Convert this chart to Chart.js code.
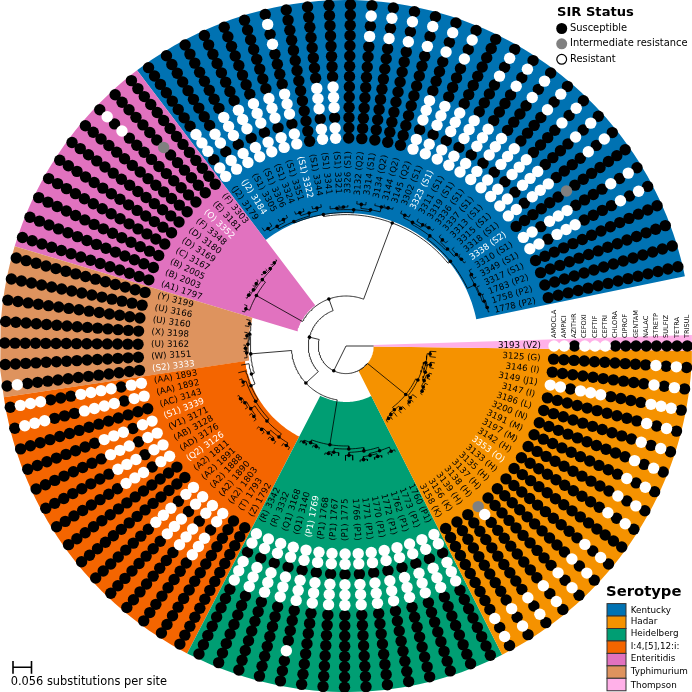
<!DOCTYPE html>
<html>
<head>
<meta charset="utf-8">
<title>SIR status by serotype</title>
<script src="https://cdn.jsdelivr.net/npm/chart.js@4/dist/chart.umd.min.js"></script>
<style>
  html, body { margin: 0; padding: 0; background: #fff; }
  canvas { display: block; }
</style>
</head>
<body>
<canvas id="tree" width="692" height="692"></canvas>
<script>
// antibiotic columns, inner ring to outer ring
const drugs = ['AMOCLA', 'AMPICI', 'AZITHR', 'CEFOXI', 'CEFTIF', 'CEFTRI', 'CHLORA', 'CIPROF', 'GENTAM', 'NALAC', 'STRETP', 'SULFIZ', 'TETRA', 'TRISUL'];

// isolates clockwise from the Thompson row: [id, subgroup]
const thompsonIsolates = [['3193', 'V2']];
const hadarIsolates = [['3125', 'G'], ['3146', 'I'], ['3149', 'J1'], ['3147', 'I'], ['3186', 'L'], ['3200', 'N'], ['3191', 'M'], ['3197', 'M'], ['3142', 'H'], ['3353', 'O'], ['3133', 'H'], ['3135', 'H'], ['3137', 'H'], ['3138', 'H'], ['3139', 'H'], ['3156', 'K'], ['3158', 'K']];
const heidelbergIsolates = [['1760', 'P1'], ['1773', 'P1'], ['1762', 'P1'], ['1772', 'P1'], ['1770', 'P1'], ['1771', 'P1'], ['1766', 'P1'], ['1775', 'P1'], ['1767', 'P1'], ['1768', 'P1'], ['1769', 'P1'], ['3140', 'Q1'], ['3168', 'Q1'], ['3332', 'R'], ['3342', 'R']];
const monophasicIsolates = [['1792', 'Z'], ['1793', 'T'], ['1803', 'A2'], ['1890', 'A2'], ['1888', 'A2'], ['1891', 'A2'], ['1811', 'A2'], ['3126', 'Q2'], ['3176', 'AD'], ['3128', 'AB'], ['3171', 'V1'], ['3339', 'S1'], ['3143', 'AC'], ['1892', 'AA'], ['1893', 'AA']];
const typhimuriumIsolates = [['3333', 'S2'], ['3151', 'W'], ['3162', 'U'], ['3198', 'X'], ['3160', 'U'], ['3166', 'U'], ['3199', 'Y']];
const enteritidisIsolates = [['1797', 'A1'], ['2003', 'B'], ['2005', 'B'], ['3167', 'C'], ['3169', 'D'], ['3180', 'D'], ['3348', 'F'], ['3352', 'O'], ['3181', 'E'], ['3303', 'F']];
const kentuckyIsolates = [['3179', 'J2'], ['3184', 'J2'], ['3305', 'S1'], ['3306', 'S1'], ['3324', 'S1'], ['3351', 'S1'], ['3322', 'S1'], ['3344', 'S1'], ['3341', 'S1'], ['3321', 'S1'], ['3326', 'S1'], ['3132', 'Q2'], ['3314', 'S1'], ['3134', 'Q2'], ['3144', 'Q2'], ['3145', 'Q2'], ['3302', 'S1'], ['3323', 'S1'], ['3311', 'S1'], ['3319', 'S1'], ['3336', 'S1'], ['3337', 'S1'], ['3313', 'S1'], ['3315', 'S1'], ['3318', 'S1'], ['3338', 'S2'], ['3310', 'S1'], ['3349', 'S1'], ['3317', 'S1'], ['1783', 'P2'], ['1758', 'P2'], ['1778', 'P2']];

// isolates whose label is printed in white
const whiteLabels = ['3184', '3322', '3323', '3338', '3339', '3333', '3352', '3353', '3126', '1769'];

// SIR calls per isolate, one letter per drug
const thompsonSir = ['RRSRRRSSSSSSSS'];
const hadarSir = [
  'SSSSSSSSSSRSRS', 'SSSSSSSSSSRSRS', 'RRSRRRSSSSRRRS', 'SSSSSSSSSSRSRS', 'SSSSSSSSSSRSRS', 'SSSSSSSSSSRSRS',
  'SSSSSSSSSSRSRS', 'SSSSSSSSSSRSRS', 'SSSSSSSSSSRSRS', 'SSSSSSSSSSSSSS', 'SSSSSSSSSSRSRS', 'SSSSSSSSSSRSRS',
  'SSSSSSSSSSRSRS', 'IRSSSSSSSSRSRS', 'SSSSSSSSSSRSRS', 'SSSSSSSSSSRSRS', 'SSSSSSSSSSRSRS'
];
const heidelbergSir = [
  'RRSRRRSSSSSSSS', 'RRSRRRSSSSSSSS', 'RRSRRRSSSSSSSS', 'RRSRRRSSSSSSSS', 'RRSRRRSSSSSSSS', 'RRSRRRSSSSSSSS',
  'RRSRRRSSSSSSSS', 'RRSRRRSSSSSSSS', 'RRSRRRSSSSSSSS', 'RRSRRRSSSSSSSS', 'RRSRRRSSSSRSSS', 'RRSRRRSSSSSSSS',
  'RRSRRRSSSSSSSS', 'RRSRRRSSSSSSSS', 'RRSRRRSSSSSSSS'
];
const monophasicSir = [
  'SSSSSSSSSSSSSS', 'SSSSSSSSSSSSSS', 'RRSRRRSSSSSSSS', 'RRSRRRSSSSSSSS', 'RRSRRRSSSSSSSS', 'RRSRRRSSSSSSSS',
  'SSSSSSSSSSSSSS', 'SSSSSSSSSSSSSS', 'RRSRRRSSSSSSSS', 'RRSRRRSSSSSSSS', 'RRSRRRSSSSSSSS', 'RRSRRRSSSSSSSS',
  'SSSSSSSSSSSSSS', 'RRSRRRRSSSRRRS', 'RRSRRRRSSSRRRS'
];
const typhimuriumSir = ['SSSSSSSSSSSSRS', 'SSSSSSSSSSSSSS', 'SSSSSSSSSSSSSS', 'SSSSSSSSSSSSSS', 'SSSSSSSSSSSSSS', 'SSSSSSSSSSSSSS', 'SSSSSSSSSSSSSS'];
const enteritidisSir = [
  'SSSSSSSSSSSSSS', 'SSSSSSSSSSSSSS', 'SSSSSSSSSSSSSS', 'SSSSSSSSSSSSSS', 'SSSSSSSSSSSSSS', 'SSSSSSSSSSSSSS',
  'SSSSSSSSSSSSSS', 'SSSSSSSSSSRSRS', 'SSSSSSISSSSSSS', 'SSSSSSSSSSSSSS'
];
const kentuckySir = [
  'RRSRRRSSSSSSSS', 'RRSRRSSSSSSSSS', 'RRSRRRSSSSSSSS', 'RRSRRRSSSSSSSS', 'RRSRRRSSSSSSSS', 'RRSRRRSSSSSSSS',
  'RRSRRRSSSSRSRS', 'SSSSSSSSSSSSSS', 'RRSRRRSSSSSSSS', 'RRSRRRSSSSSSSS', 'SSSSSSSSSSSSSS', 'SSSSSSSSSSRSRS',
  'SSSSSSSSSSRSRS', 'SSSSSSSSSSRSRS', 'SSSSSSSSSSRSRS', 'RRSRRRSSSSRSRS', 'RRSRRRSSSSRSRS', 'RRSRRRSSSSSSSS',
  'RRSRRRSSSSRSRS', 'RRSRRRSSSSRSRS', 'RRSRRRSSSSRSRS', 'RRSRRRSSSSRSRS', 'RRSRRRSSSSRSRS', 'RRSRRRSSSSRSRS',
  'RRSRRRSSSSRSRS', 'SSSSSSISSSSSSS', 'RRSRRRSSSSRSRS', 'RRSRRRSSSSRSRS', 'SSSSSSSSSSSSSS', 'SSSSSSSSSSSSSS',
  'SSSSSSSSSSSSSS', 'SSSSSSSSSSSSSS'
];

// tree, leaves in row order: a number is a tip's branch length,
// [length, ...children] an internal node
const hadarTree = [49.4,
  [2.5,
    [2, [3, 6, 6], [2, [3, 4, 4], [2, [2, 3, 3], [2, 3, [1, 2, 2]]]]],
    [3, 5, [2, 3, 3]]],
  [3, [3, 4, 4], [2, 5, [2, 3, 3]]]];
const heidelbergTree = [45.4,
  [3,
    [3.4,
      [3.6, [4.5, 2, 2], [2, [3, 2, 2], [3, 2, 2]]],
      [3, 5, 5]],
    [4, 3, [2, 2, 2]]],
  [2.9, [2, 2, 2], [2, 2, 2]]];
const monophasicTree = [3,
  [4.4,
    [3,
      [3,
        [4, [3, 3, 3], [3.7, [2, 3, 3], [2, 3, 3]]],
        [5, [2, 3, 3], [2, 3, [2, 1.5, 1.5]]]],
      [3, 3, 3]],
    8],
  8];
const typhimuriumTree = [1.5,
  [1, [1.5, 3, [1, 2, 2]], [1.5, 3, 3]],
  [2, 4, 4]];
const enteritidisTree = [52.8,
  [4, 3, 3],
  [4, [1.5, [1.5, 1.5, 1.5], [1, 2, 2]], [1.5, [1.5, 1.5, 1.5], [1.5, 1.5, 1.5]]]];
const kentuckyTree = [81.4,
  [2,
    [1.6, [3, [3, 4, 4], [3, 3, 3]], [3, [3, 3, 3], [3, 3, 3]]],
    [3, [1.6, 3, [1, 2, 2]], [2, [4, 3, 3], [5, 2, [1, 2, 2]]]]],
  [3,
    [4, [2, [3, 3, 3], [3, 3, [1, 2, 2]]], [2, [3, 3, 3], [3, 3, [1, 2, 2]]]],
    [8, [2, 3, 3], [1, 3, [2, 2, [1, 1, 1]]]]]];
const fullTree = [0,
  27.6,
  [27.6,
    hadarTree,
    [10,
      [17, heidelbergTree, [41, monophasicTree, typhimuriumTree]],
      [12.4, enteritidisTree, kentuckyTree]]]];

// legend order
const serotypeNames = ['Kentucky', 'Hadar', 'Heidelberg', 'I:4,[5],12:i:', 'Enteritidis', 'Typhimurium', 'Thompson'];
const serotypeColors = ['#0072B2', '#F59200', '#009E73', '#F46500', '#E172BF', '#DE935E', '#FFB0E8'];
const sirNames = ['Susceptible', 'Intermediate resistance', 'Resistant'];
const scaleLabel = '0.056 substitutions per site';

// layout
const ANGLE_STEP = 3.61, RING_START = 208, RING_STEP = 10.25, OUTER_R = 346, LABEL_R = 195;
const FONT = '"DejaVu Sans"';

const isolates = [...thompsonIsolates, ...hadarIsolates, ...heidelbergIsolates, ...monophasicIsolates, ...typhimuriumIsolates, ...enteritidisIsolates, ...kentuckyIsolates];
const sirRows = [...thompsonSir, ...hadarSir, ...heidelbergSir, ...monophasicSir, ...typhimuriumSir, ...enteritidisSir, ...kentuckySir];

function polar(r, deg) {
  const a = deg * Math.PI / 180;
  return { x: r * Math.cos(a), y: r * Math.sin(a) };
}

function arcPoints(r, a0, a1) {
  const pts = [];
  const n = Math.max(1, Math.ceil(Math.abs(a1 - a0) / 1.5));
  for (let i = 0; i <= n; i++) pts.push(polar(r, a0 + (a1 - a0) * i / n));
  return pts;
}

function wedge(color, a0, a1, inner) {
  const pts = [...arcPoints(inner, a0, a1), ...arcPoints(OUTER_R, a1, a0)];
  pts.push(pts[0]);
  return {
    type: 'scatter', data: pts, showLine: true, fill: 'shape', order: 9,
    backgroundColor: color, borderColor: color, borderWidth: 0, pointRadius: 0, tension: 0,
  };
}

// row boundaries between serotypes
const mid = (row) => (row + 0.5) * ANGLE_STEP;
const wedges = [
  wedge(serotypeColors[6], -1.83, 0.8, 27.6),
  wedge(serotypeColors[1], 0.8, mid(17), 27.6),
  wedge(serotypeColors[2], mid(17), mid(32), 56),
  wedge(serotypeColors[3], mid(32), mid(47), 102),
  wedge(serotypeColors[5], mid(47), mid(54), 97.7),
  wedge(serotypeColors[4], mid(54), mid(64), 51),
  wedge(serotypeColors[0], mid(64), mid(96) , 133),
];

// walk the tree: tips take the next row, a node sits midway between its outer children
const branchPts = [], nodePts = [];
let nextRow = 0;
function layout(node, parentR) {
  if (typeof node === 'number') {
    const a = nextRow++ * ANGLE_STEP;
    branchPts.push(polar(parentR, a), polar(parentR + node, a), { x: NaN, y: NaN });
    return a;
  }
  const [len, ...kids] = node;
  const r = parentR + len;
  const angles = kids.map((k) => layout(k, r));
  const a0 = angles[0], a1 = angles[angles.length - 1];
  const a = (a0 + a1) / 2;
  branchPts.push(...arcPoints(r, a0, a1), { x: NaN, y: NaN });
  if (len > 0) {
    branchPts.push(polar(parentR, a), polar(r, a), { x: NaN, y: NaN });
    nodePts.push(polar(r, a));
  }
  return a;
}
layout(fullTree, 0);

const sirPts = { S: [], I: [], R: [] };
sirRows.forEach((row, i) => {
  [...row].forEach((call, j) => {
    sirPts[call].push(polar(RING_START + j * RING_STEP, i * ANGLE_STEP));
  });
});

function dots(call, color, order) {
  return { type: 'scatter', data: sirPts[call], order, backgroundColor: color, borderColor: color, borderWidth: 0, pointRadius: 5.7, pointHoverRadius: 5.7 };
}

// rotated labels and both legends
const textPlugin = {
  id: 'textPlugin',
  afterDatasetsDraw(chart) {
    const { ctx, scales: { x, y } } = chart;
    ctx.save();
    ctx.textBaseline = 'middle';
    ctx.font = '8.7px ' + FONT;
    isolates.forEach(([id, group], i) => {
      const a = i * ANGLE_STEP;
      const p = polar(LABEL_R, a);
      const flip = a > 90 && a < 270;
      ctx.save();
      ctx.translate(x.getPixelForValue(p.x), y.getPixelForValue(p.y));
      ctx.fillStyle = whiteLabels.includes(id) ? '#fff' : '#000';
      if (flip) {
        ctx.rotate((a - 180) * Math.PI / 180);
        ctx.textAlign = 'left';
        ctx.fillText(`(${group}) ${id}`, 0, 0);
      } else {
        ctx.rotate(a * Math.PI / 180);
        ctx.textAlign = 'right';
        ctx.fillText(`${id} (${group})`, 0, 0);
      }
      ctx.restore();
    });

    // drug names above the Thompson row
    ctx.font = '6.6px ' + FONT;
    ctx.fillStyle = '#000';
    ctx.textAlign = 'left';
    drugs.forEach((d, j) => {
      ctx.save();
      ctx.translate(x.getPixelForValue(RING_START + j * RING_STEP), 338);
      ctx.rotate(-Math.PI / 2);
      ctx.fillText(d, 0, 0);
      ctx.restore();
    });

    // SIR legend
    ctx.textAlign = 'left';
    ctx.font = 'bold 13.1px ' + FONT;
    ctx.fillText('SIR Status', 557, 13);
    ctx.font = '9.9px ' + FONT;
    const sirFill = ['#000', '#808080', '#fff'];
    [28.5, 43.8, 59.3].forEach((ly, i) => {
      ctx.beginPath();
      ctx.arc(561.7, ly, i === 2 ? 4.9 : 5.5, 0, Math.PI * 2);
      ctx.fillStyle = sirFill[i];
      ctx.fill();
      if (i === 2) { ctx.lineWidth = 1.2; ctx.strokeStyle = '#000'; ctx.stroke(); }
      ctx.fillStyle = '#000';
      ctx.fillText(sirNames[i], 570, ly - 0.3);
    });

    // serotype legend
    ctx.font = 'bold 14.8px ' + FONT;
    ctx.fillText('Serotype', 606, 592);
    ctx.font = '8.8px ' + FONT;
    const textY = [611, 621.7, 633.3, 646.7, 659, 671.7, 685.3];
    serotypeNames.forEach((name, i) => {
      const top = 603.6 + i * 12.45;
      ctx.fillStyle = serotypeColors[i];
      ctx.fillRect(607, top, 19, 12.45);
      ctx.strokeStyle = '#333';
      ctx.lineWidth = 1;
      ctx.strokeRect(607, top, 19, 12.45);
      ctx.fillStyle = '#000';
      ctx.fillText(name, 630.7, textY[i]);
    });

    // scale bar
    ctx.strokeStyle = '#000';
    ctx.lineWidth = 1.6;
    ctx.beginPath();
    ctx.moveTo(13, 661); ctx.lineTo(13, 673.7);
    ctx.moveTo(31.5, 661); ctx.lineTo(31.5, 673.7);
    ctx.moveTo(13, 667.3); ctx.lineTo(31.5, 667.3);
    ctx.stroke();
    ctx.font = '11.4px ' + FONT;
    ctx.fillText(scaleLabel, 10.7, 682.5);
    ctx.restore();
  },
};

new Chart(document.getElementById('tree'), {
  type: 'scatter',
  data: {
    datasets: [
      ...wedges,
      {
        type: 'scatter', data: branchPts, showLine: true, spanGaps: false, order: 6,
        borderColor: '#000', borderWidth: 0.8, pointRadius: 0, tension: 0,
      },
      { type: 'scatter', data: nodePts, order: 5, backgroundColor: '#000', borderWidth: 0, pointRadius: 1.8 },
      dots('S', '#000', 4),
      dots('I', '#808080', 3),
      dots('R', '#fff', 2),
    ],
  },
  options: {
    responsive: false,
    animation: false,
    events: [],
    layout: { padding: 0, autoPadding: false },
    plugins: { legend: { display: false }, tooltip: { enabled: false } },
    scales: {
      x: { type: 'linear', display: false, min: -OUTER_R, max: OUTER_R },
      y: { type: 'linear', display: false, min: -OUTER_R, max: OUTER_R, reverse: true },
    },
  },
  plugins: [textPlugin],
});
</script>
</body>
</html>
